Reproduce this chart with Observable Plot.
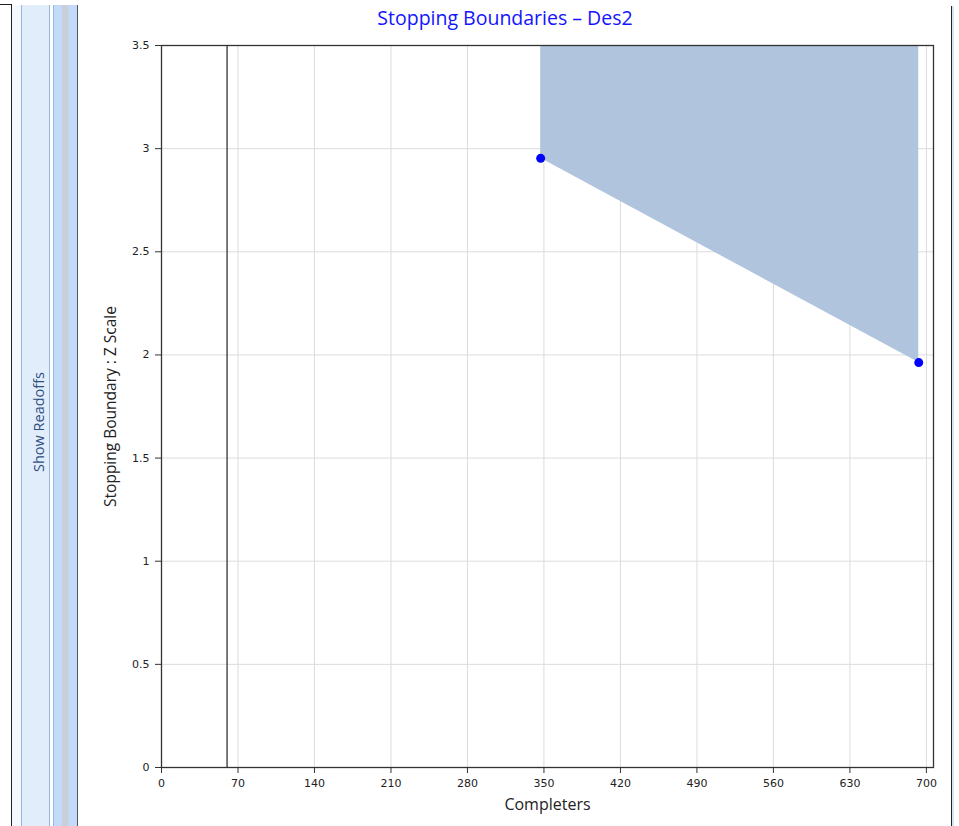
<!DOCTYPE html>
<html>
<head>
<meta charset="utf-8">
<script src="https://cdn.jsdelivr.net/npm/d3@7"></script>
<script src="https://cdn.jsdelivr.net/npm/@observablehq/plot@0.6"></script>
<style>
  html, body { margin: 0; padding: 0; background: #fff; }
  #wrap { position: relative; width: 959px; height: 826px; overflow: hidden; background: #fff; }
  #chart { position: absolute; left: 0; top: 0; }
  .abs { position: absolute; }
  #title { position: absolute; top: 4px; left: 255px; width: 500px; text-align: center;
           font-family: "Open Sans", "Noto Sans", sans-serif; font-size: 19.5px; color: #1414ff; }
  #readoffs { position: absolute; left: 38px; top: 422px; transform: translate(-50%, -50%) rotate(-90deg);
              white-space: nowrap; font-family: "Open Sans", "Noto Sans", sans-serif; font-size: 14.5px; color: #2f4f80; }
</style>
</head>
<body>
<div id="wrap">
  <div id="chart"></div>
  <!-- left side panel decoration -->
  <div class="abs" style="left:0;top:4px;width:12px;height:1px;background:#222"></div>
  <div class="abs" style="left:11px;top:4px;width:1px;height:822px;background:#222"></div>
  <div class="abs" style="left:12px;top:5px;width:9px;height:821px;background:#f4f8ff"></div>
  <div class="abs" style="left:21px;top:5px;width:1px;height:821px;background:#98b6de"></div>
  <div class="abs" style="left:22px;top:5px;width:27px;height:821px;background:#e2edfc"></div>
  <div class="abs" style="left:49px;top:5px;width:1px;height:821px;background:#98b6de"></div>
  <div class="abs" style="left:53px;top:5px;width:1px;height:821px;background:#98b6de"></div>
  <div class="abs" style="left:54px;top:5px;width:23px;height:821px;background:linear-gradient(to right,#c2dbfb 0%,#c2dbfb 30%,#c9cfd6 40%,#c9cfd6 55%,#c2dbfb 70%,#c2dbfb 100%)"></div>
  <div class="abs" style="left:77px;top:5px;width:1px;height:821px;background:#555"></div>
  <div id="readoffs">Show Readoffs</div>
  <!-- right edge decoration -->
  <div class="abs" style="left:951px;top:6px;width:1px;height:820px;background:#222"></div>
  <div class="abs" style="left:952px;top:6px;width:2px;height:820px;background:#d6e4f8"></div>
  <div id="title">Stopping Boundaries – Des2</div>
</div>
<script>
// ---- data ----
const completers = [347, 693];          // look sample sizes (x)
const zBoundary = [2.953, 1.963];       // stopping boundary on Z scale (y)
const currentLook = [60];               // vertical reference line
const xTicks = [0, 70, 140, 210, 280, 350, 420, 490, 560, 630, 700];
const yTicks = [0, 0.5, 1, 1.5, 2, 2.5, 3, 3.5];
const xMax = 706.5;
const yMax = 3.5;

const data = completers.map((n, i) => ({n, z: zBoundary[i]}));

const tickFont = "DejaVu Sans, Verdana, sans-serif";
const labelFont = "Open Sans, Noto Sans, sans-serif";

const plot = Plot.plot({
  width: 959,
  height: 826,
  marginTop: 45,
  marginRight: 26,
  marginBottom: 59,
  marginLeft: 161,
  style: {background: "transparent", color: "#222"},
  x: {domain: [0, xMax]},
  y: {domain: [0, yMax]},
  marks: [
    Plot.gridX(xTicks, {stroke: "#dcdcdc", strokeOpacity: 1}),
    Plot.gridY(yTicks, {stroke: "#dcdcdc", strokeOpacity: 1}),
    Plot.areaY(data, {x: "n", y1: "z", y2: () => yMax, fill: "#b0c4de", curve: "linear"}),
    Plot.ruleX(currentLook, {stroke: "#222", strokeWidth: 1.2}),
    Plot.frame({stroke: "#333", strokeWidth: 1.3}),
    Plot.axisX(xTicks, {tickSize: 6, tickPadding: 6, fontSize: 11, fontFamily: tickFont, label: null, tickFormat: d => String(d), stroke: "#333", fill: "#222"}),
    Plot.axisY(yTicks, {tickSize: 6, tickPadding: 6, fontSize: 11, fontFamily: tickFont, label: null, tickFormat: d => String(d), stroke: "#333", fill: "#222"}),
    Plot.text(["Completers"], {frameAnchor: "bottom", dy: 42, fontSize: 16, fontFamily: labelFont, fill: "#222"}),
    Plot.text(["Stopping Boundary : Z Scale"], {frameAnchor: "left", textAnchor: "middle", dx: -50, rotate: -90, fontSize: 15.5, fontFamily: labelFont, fill: "#222"}),
    Plot.dot(data, {x: "n", y: "z", r: 4.5, fill: "#0000ff", stroke: "none"})
  ]
});
document.getElementById("chart").appendChild(plot);
</script>
</body>
</html>
